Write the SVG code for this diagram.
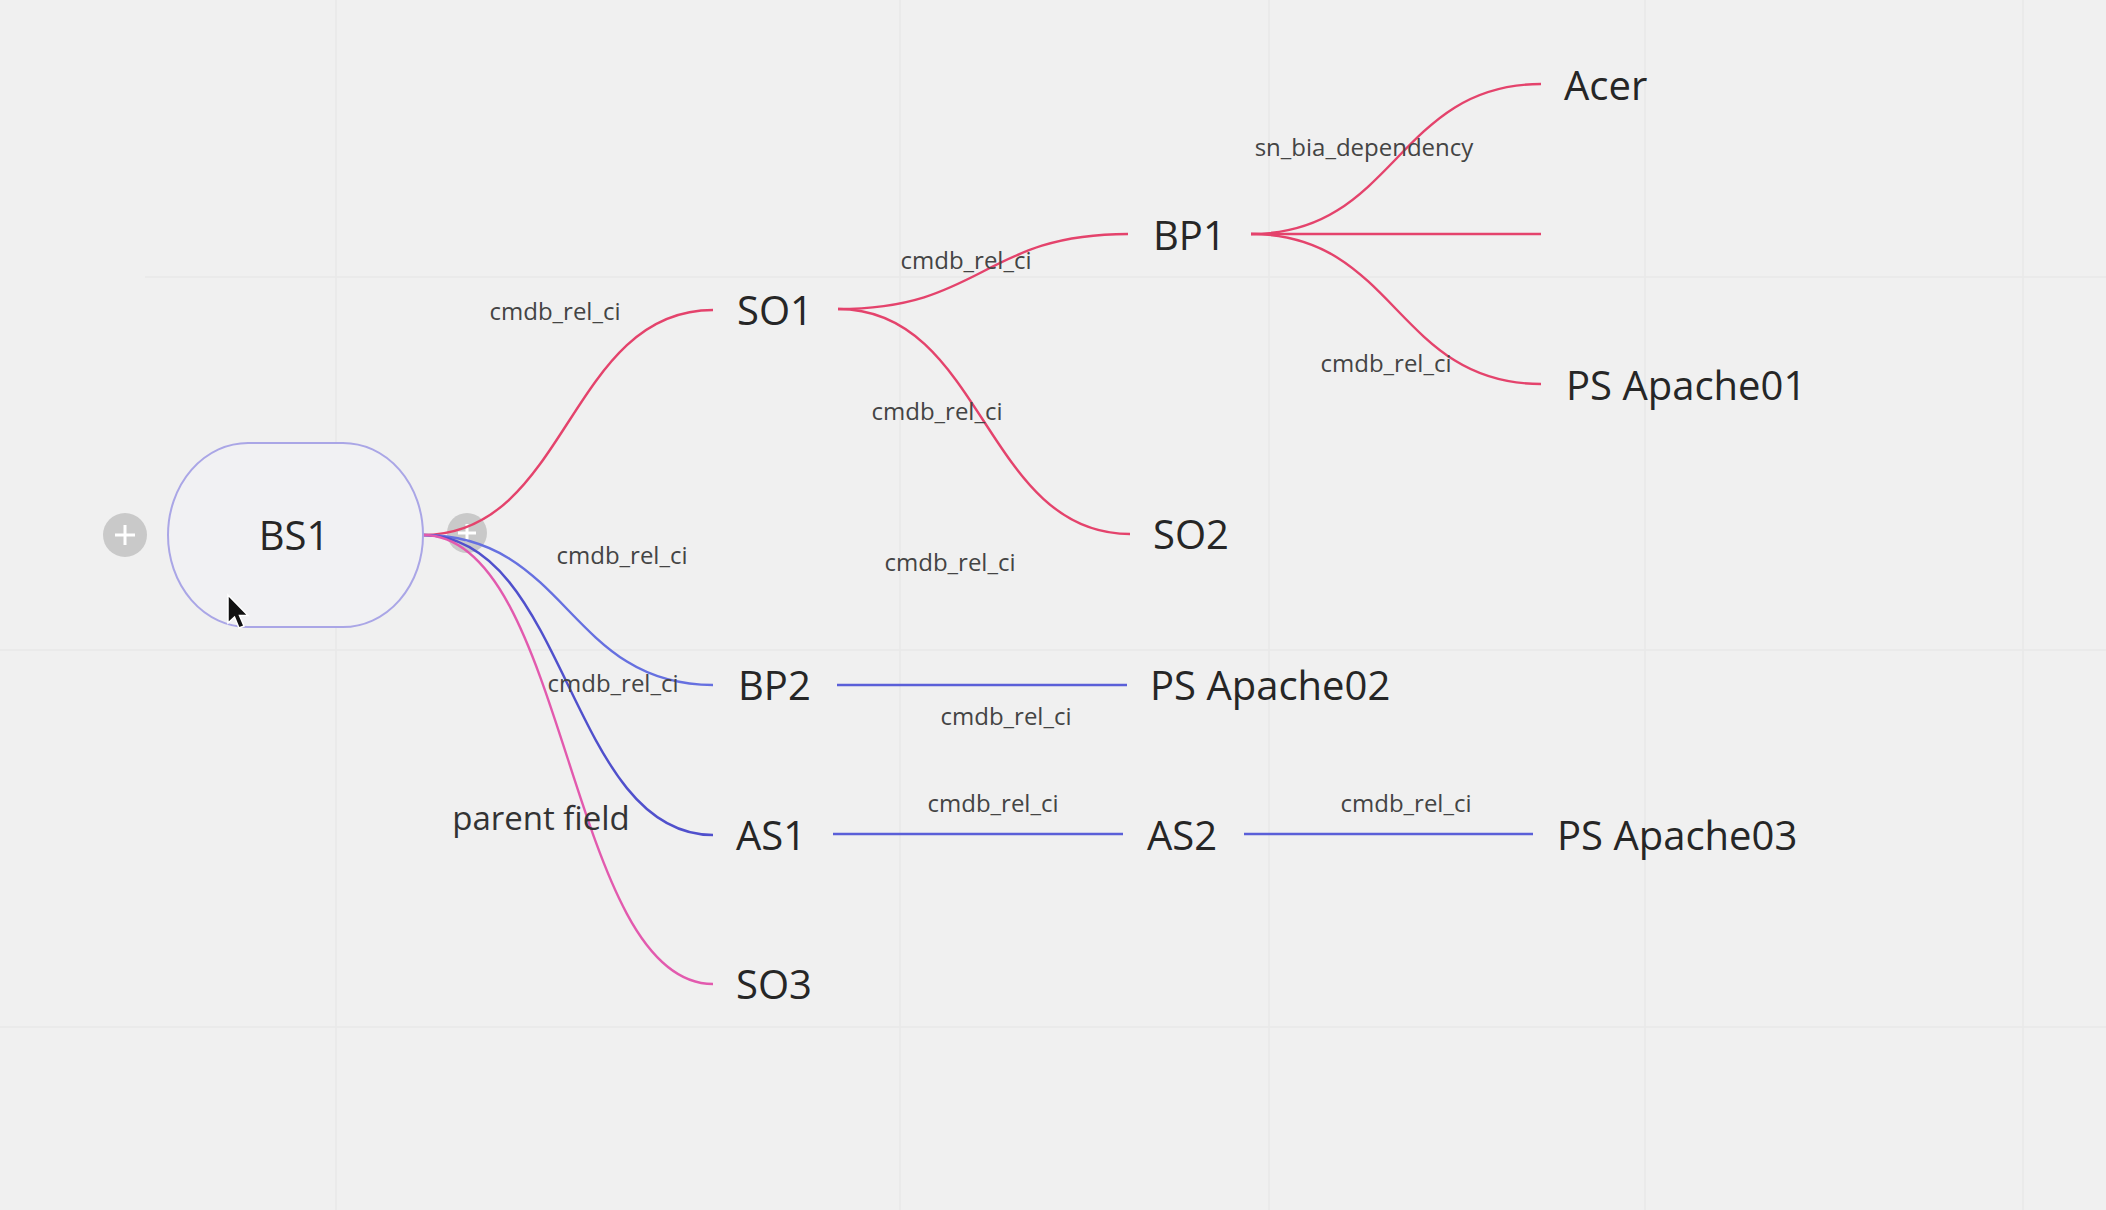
<svg xmlns="http://www.w3.org/2000/svg" width="2106" height="1210" viewBox="0 0 2106 1210">
<style>
.node{font-family:"Open Sans","Noto Sans","Liberation Sans",sans-serif;font-size:40px;fill:#262626}
.lbl{font-family:"Open Sans","Noto Sans","Liberation Sans",sans-serif;font-size:24px;fill:#444;text-anchor:middle}
.pf{font-family:"Open Sans","Noto Sans","Liberation Sans",sans-serif;font-size:33px;fill:#333;text-anchor:middle}
.red{fill:none;stroke:#e4436c;stroke-width:2.4}
.blue{fill:none;stroke:#5a5fd8;stroke-width:2.4}
.mag{fill:none;stroke:#e25aae;stroke-width:2.4}
.grid{stroke:#e8e8e8;stroke-width:1.5}
.plus{fill:#c9c9c9}
.plusx{stroke:#fff;stroke-width:3}
</style>
<rect width="2106" height="1210" fill="#f0f0f0"/>
<g id="grid">
<line class="grid" x1="145" y1="277" x2="2106" y2="277"/>
<line class="grid" x1="0" y1="650" x2="2106" y2="650"/>
<line class="grid" x1="0" y1="1027" x2="2106" y2="1027"/>
<line class="grid" x1="336" y1="0" x2="336" y2="1210"/>
<line class="grid" x1="900" y1="0" x2="900" y2="1210"/>
<line class="grid" x1="1269" y1="0" x2="1269" y2="1210"/>
<line class="grid" x1="1645" y1="0" x2="1645" y2="1210"/>
<line class="grid" x1="2023" y1="0" x2="2023" y2="1210"/>
</g>
<g id="plus-left">
<circle class="plus" cx="125" cy="535" r="22"/>
<line class="plusx" x1="115" y1="535" x2="135" y2="535"/>
<line class="plusx" x1="125" y1="525" x2="125" y2="545"/>
</g>
<g id="plus-right">
<circle class="plus" cx="467" cy="533" r="20"/>
<line class="plusx" x1="458" y1="533" x2="476" y2="533"/>
<line class="plusx" x1="467" y1="524" x2="467" y2="542"/>
</g>
<g id="connectors">
<path class="red" d="M423,535 C568,535 568,310 713,310"/>
<path class="blue" d="M423,535 C568,535 568,685 713,685" style="stroke:#6670e0"/>
<path class="blue" d="M423,535 C568,535 568,835 713,835" style="stroke:#5050cc"/>
<path class="mag" d="M423,535 C568,535 568,984 713,984"/>
<path class="red" d="M838,309 C983,309 983,234 1128,234"/>
<path class="red" d="M838,309 C984,309 984,534 1130,534"/>
<path class="red" d="M1251,234 C1396,234 1396,84 1541,84"/>
<path class="red" d="M1251,234 L1541,234"/>
<path class="red" d="M1251,234 C1396,234 1396,384 1541,384"/>
<path class="blue" d="M837,685 L1127,685"/>
<path class="blue" d="M833,834 L1123,834"/>
<path class="blue" d="M1244,834 L1533,834"/>
</g>
<g id="labels">
<text class="lbl" x="555" y="320">cmdb_rel_ci</text>
<text class="lbl" x="622" y="564">cmdb_rel_ci</text>
<text class="lbl" x="613" y="692">cmdb_rel_ci</text>
<text class="pf" x="541" y="830">parent field</text>
<text class="lbl" x="966" y="269">cmdb_rel_ci</text>
<text class="lbl" x="937" y="420">cmdb_rel_ci</text>
<text class="lbl" x="950" y="571">cmdb_rel_ci</text>
<text class="lbl" x="1006" y="725">cmdb_rel_ci</text>
<text class="lbl" x="993" y="812">cmdb_rel_ci</text>
<text class="lbl" x="1406" y="812">cmdb_rel_ci</text>
<text class="lbl" x="1364" y="156">sn_bia_dependency</text>
<text class="lbl" x="1386" y="372">cmdb_rel_ci</text>
</g>
<g id="BS1">
<rect x="168" y="443" width="255" height="184" rx="80" ry="92" fill="#f1f1f3" stroke="#aaa6e6" stroke-width="2"/>
<text class="node" x="294" y="550" text-anchor="middle">BS1</text>
</g>
<g id="SO1"><text class="node" x="737" y="325">SO1</text></g>
<g id="BP1"><text class="node" x="1153" y="250">BP1</text></g>
<g id="SO2"><text class="node" x="1153" y="549">SO2</text></g>
<g id="Acer"><text class="node" x="1564" y="100">Acer</text></g>
<g id="PSApache01"><text class="node" x="1566" y="400">PS Apache01</text></g>
<g id="BP2"><text class="node" x="738" y="700">BP2</text></g>
<g id="PSApache02"><text class="node" x="1150" y="700">PS Apache02</text></g>
<g id="AS1"><text class="node" x="736" y="850">AS1</text></g>
<g id="AS2"><text class="node" x="1147" y="850">AS2</text></g>
<g id="PSApache03"><text class="node" x="1557" y="850">PS Apache03</text></g>
<g id="SO3"><text class="node" x="736" y="999">SO3</text></g>
<g id="cursor">
<path d="M228,595 L228,623 L234.5,617 L239,628 L244,626 L239.5,615.5 L248,615.5 Z" fill="#111" stroke="#fff" stroke-width="1.5"/>
</g>
</svg>
